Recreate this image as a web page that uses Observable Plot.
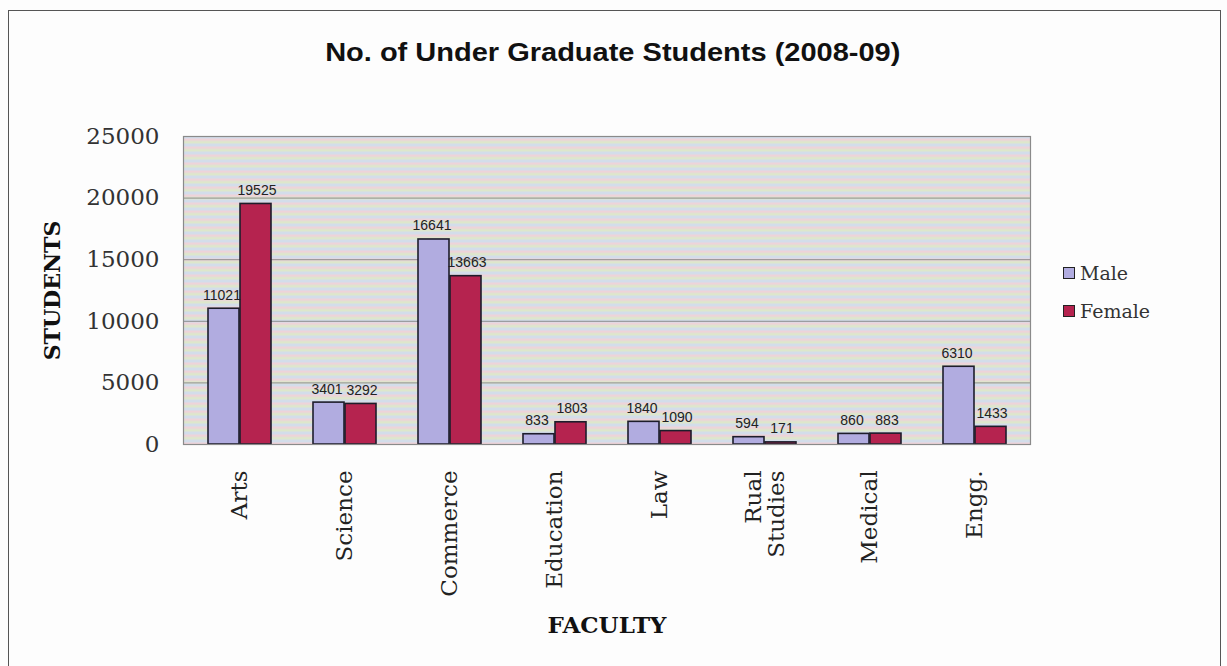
<!DOCTYPE html>
<html>
<head>
<meta charset="utf-8">
<script src="https://cdn.jsdelivr.net/npm/d3@7"></script>
<script src="https://cdn.jsdelivr.net/npm/@observablehq/plot@0.6"></script>
<style>
  html, body { margin: 0; padding: 0; background: #fff; }
  #wrap { position: relative; width: 1227px; height: 666px; overflow: hidden; background: #fdfdfd; }
  #border { position: absolute; left: 8px; top: 10px; width: 1213px; height: 700px; border: 1px solid #555; box-sizing: border-box; }
  #title { position: absolute; left: 0; width: 1227px; top: 37px; text-align: center;
           font: bold 25px "Liberation Sans", Arial, sans-serif; color: #111; line-height: 30px;
           transform: scaleX(1.16); transform-origin: 618px 0; }
  #chart { position: absolute; left: 0; top: 90px; }
  .leg { position: absolute; left: 1063px; font: 19px "DejaVu Serif", serif; color: #333; line-height: 22px; }
  .leg span.sw { display: inline-block; width: 10px; height: 10px; border: 1px solid #222; margin-right: 5px; vertical-align: 1px; }
</style>
</head>
<body>
<svg width="0" height="0" style="position:absolute">
  <defs>
    <pattern id="stripes" patternUnits="userSpaceOnUse" width="12" height="8">
      <rect x="0" y="0" width="12" height="8" fill="#e3ddd8"/>
      <rect x="0" y="0" width="12" height="2.5" fill="#eed3d9"/>
      <rect x="0" y="2.5" width="12" height="2.5" fill="#dde7cb"/>
      <rect x="0" y="5" width="12" height="3" fill="#d3ddea"/>
    </pattern>
  </defs>
</svg>
<div id="wrap">
  <div id="border"></div>
  <div id="title">No. of Under Graduate Students (2008-09)</div>
  <div id="chart"></div>
  <div class="leg" style="top:262px"><span class="sw" style="background:#b1ace0"></span>Male</div>
  <div class="leg" style="top:300px"><span class="sw" style="background:#b5234f"></span>Female</div>
</div>
<script>
const categories = ["Arts", "Science", "Commerce", "Education", "Law", "Rual\nStudies", "Medical", "Engg."];
const male = [11021, 3401, 16641, 833, 1840, 594, 860, 6310];
const female = [19525, 3292, 13663, 1803, 1090, 171, 883, 1433];
const series = ["Male", "Female"];
const yTicks = [0, 5000, 10000, 15000, 20000, 25000];
const colors = ["#b1ace0", "#b5234f"];

const maleRows = categories.map((c, i) => ({faculty: c, gender: "Male", value: male[i]}));
const femaleRows = categories.map((c, i) => ({faculty: c, gender: "Female", value: female[i]}));

const serif = "DejaVu Serif, serif";
const sans = "Liberation Sans, Arial, sans-serif";
const chart = Plot.plot({
  width: 1227,
  height: 576,
  marginTop: 46,
  marginBottom: 222,
  marginLeft: 183,
  marginRight: 197,
  style: {fontFamily: serif, background: "transparent", color: "#333"},
  x: {domain: categories, padding: 0},
  y: {domain: [0, 25000]},
  color: {domain: series, range: colors},
  marks: [
    Plot.frame({fill: "url(#stripes)"}),
    Plot.ruleY(yTicks.slice(1, -1), {stroke: "#8e8e8e", strokeWidth: 1}),
    Plot.barY(maleRows, {x: "faculty", y: "value", fill: "gender", stroke: "#1d1d2b", strokeWidth: 1.6, insetLeft: 21, insetRight: 53}),
    Plot.barY(femaleRows, {x: "faculty", y: "value", fill: "gender", stroke: "#1d1d2b", strokeWidth: 1.6, insetLeft: 53, insetRight: 21}),
    Plot.text(maleRows, {x: "faculty", y: "value", text: d => String(d.value), dx: -18, dy: -9, lineAnchor: "bottom",
      fontFamily: sans, fontSize: 14, fill: "#222"}),
    Plot.text(femaleRows, {x: "faculty", y: "value", text: d => String(d.value), dx: 17, dy: -9, lineAnchor: "bottom",
      fontFamily: sans, fontSize: 14, fill: "#222"}),
    Plot.frame({stroke: "#8a8a8a", strokeWidth: 1.2}),
    Plot.axisY({ticks: yTicks, tickFormat: d => String(d), tickSize: 0, tickPadding: 24, fontSize: 23, label: null, fill: "#333"}),
    Plot.axisX({tickSize: 0, tickRotate: -90, tickPadding: 26, fontSize: 23, label: null, fill: "#222"}),
    Plot.text(["STUDENTS"], {frameAnchor: "left", textAnchor: "middle", dx: -131, rotate: -90, fontSize: 22, fontWeight: "bold", fill: "#111"}),
    Plot.text(["FACULTY"], {frameAnchor: "bottom", dy: 188, fontSize: 23, fontWeight: "bold", fill: "#111"})
  ]
});
document.getElementById("chart").appendChild(chart);
</script>
</body>
</html>
